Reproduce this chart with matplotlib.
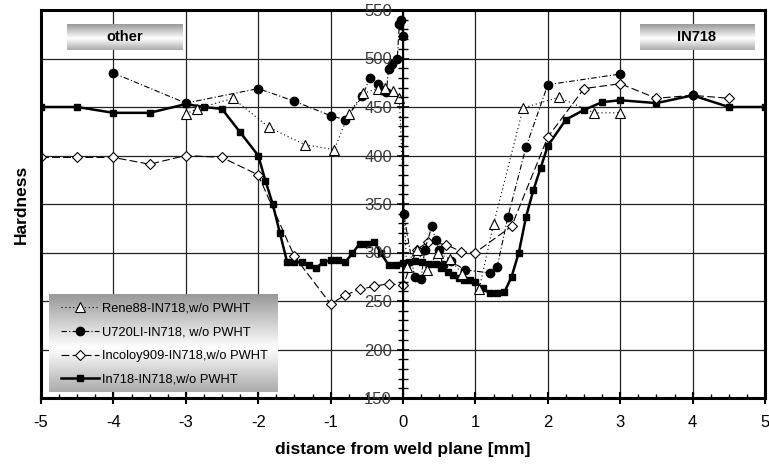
"""Hardness traverse across the weld plane for four alloy pairings vs IN718."""
import numpy as np
import matplotlib

matplotlib.use("Agg")
import matplotlib.pyplot as plt  # noqa: E402
from matplotlib.ticker import MultipleLocator  # noqa: E402

plt.rcParams["font.family"] = ["Liberation Sans", "DejaVu Sans"]
plt.rcParams["axes.unicode_minus"] = False

# --- measured traverses (distance in mm, hardness) ---
x_rene = [-3.0, -2.85, -2.35, -1.85, -1.35, -0.95, -0.75, -0.55, -0.35, -0.25,
          -0.14, -0.05, 0.05, 0.19, 0.33, 0.48, 0.65, 0.82, 1.05, 1.25,
          1.66, 2.15, 2.64, 3.0]
h_rene = [443, 448, 459, 429, 411, 406, 443, 464, 469, 470,
          466, 459, 285, 303, 282, 300, 293, 278, 262, 329,
          449, 460, 444, 444]

x_u720 = [-4.0, -3.0, -2.0, -1.5, -1.0, -0.8, -0.56, -0.46, -0.35, -0.29,
          -0.23, -0.2, -0.15, -0.08, -0.05, -0.03, 0.0, 0.01, 0.16, 0.25,
          0.3, 0.4, 0.45, 0.5, 0.55, 0.66, 0.86, 1.2, 1.3, 1.45,
          1.7, 2.0, 3.0, 3.5, 4.0]
h_u720 = [485, 454, 469, 456, 441, 437, 461, 480, 474, 468,
          465, 489, 494, 499, 536, 540, 523, 340, 275, 273,
          303, 327, 313, 303, 287, 291, 282, 279, 285, 337,
          409, 473, 484, np.nan, 462]

x_incoloy = [-5.0, -4.5, -4.0, -3.5, -3.0, -2.5, -2.0, -1.5, -1.0, -0.8,
             -0.6, -0.4, -0.2, 0.0, 0.19, 0.35, 0.6, 0.8, 1.0, 1.5,
             2.0, 2.5, 3.0, 3.5, 4.0, 4.5]
h_incoloy = [398, 398, 398, 391, 400, 398, 380, 296, 247, 256,
             262, 265, 268, 266, 303, 311, 308, 301, 300, 327,
             419, 469, 474, 459, 462, 459]

x_in718 = [-5.0, -4.5, -4.0, -3.5, -3.0, -2.75, -2.5, -2.25, -2.0, -1.9,
           -1.8, -1.7, -1.6, -1.5, -1.4, -1.3, -1.2, -1.1, -1.0, -0.9,
           -0.8, -0.7, -0.6, -0.5, -0.4, -0.3, -0.2, -0.1, 0.0, 0.08,
           0.17, 0.26, 0.36, 0.46, 0.53, 0.62, 0.69, 0.77, 0.84, 0.92,
           1.0, 1.1, 1.2, 1.3, 1.4, 1.5, 1.6, 1.7, 1.8, 1.9,
           2.0, 2.25, 2.5, 2.75, 3.0, 3.5, 4.0, 4.5, 5.0]
h_in718 = [450, 450, 444, 444, 453, 450, 448, 424, 400, 374,
           350, 320, 290, 290, 290, 287, 284, 290, 292, 292,
           290, 299, 309, 309, 311, 299, 287, 287, 289, 290,
           291, 290, 288, 288, 284, 280, 277, 274, 272, 272,
           270, 263, 258, 258, 259, 275, 300, 337, 364, 387,
           410, 437, 447, 455, 457, 454, 462, 450, 450]

labels = ["Rene88-IN718,w/o PWHT", "U720LI-IN718, w/o PWHT",
          "Incoloy909-IN718,w/o PWHT", "In718-IN718,w/o PWHT"]


def gradient_panel(ax, bounds, zorder, text=None):
    """Grey-white-grey shaded box in axes coordinates."""
    panel = ax.inset_axes(bounds, zorder=zorder)
    t = np.linspace(0.0, 1.0, 64)
    shade = 1.0 - 0.40 * np.abs(t - 0.55) / 0.55
    panel.imshow(np.repeat(shade[:, None], 2, axis=1), cmap="gray", vmin=0, vmax=1,
                 aspect="auto", extent=(0, 1, 0, 1), interpolation="bicubic")
    panel.set_axis_off()
    if text:
        panel.text(0.5, 0.5, text, ha="center", va="center",
                   fontsize=10.5, fontweight="bold")
    return panel


fig = plt.figure(figsize=(7.69, 4.66), dpi=100)
ax = fig.add_axes([41 / 769, 68 / 466, 724 / 769, 388 / 466])

ln_in718, = ax.plot(x_in718, h_in718, color="black", lw=1.8, marker="s", ms=4.5,
                    zorder=2.2)
ln_incoloy, = ax.plot(x_incoloy, h_incoloy, color="black", lw=0.8,
                      linestyle=(0, (7, 3)), marker="D", ms=5, mfc="white",
                      mec="black", mew=0.8, zorder=2.4)
ln_u720, = ax.plot(x_u720, h_u720, color="black", lw=0.8,
                   linestyle=(0, (5, 2, 1, 2)), marker="o", ms=6, zorder=2.6)
ln_rene, = ax.plot(x_rene, h_rene, color="black", lw=0.8, linestyle=(0, (1, 2.5)),
                   marker="^", ms=7, mfc="white", mec="black", mew=0.8, zorder=2.8)

ax.set_xlim(-5, 5)
ax.set_ylim(150, 550)
ax.xaxis.set_major_locator(MultipleLocator(1))
ax.xaxis.set_minor_locator(MultipleLocator(0.25))
ax.yaxis.set_major_locator(MultipleLocator(50))
ax.grid(True, which="major", color="#222222", lw=0.9)
ax.tick_params(axis="y", which="both", left=False, labelleft=False)
ax.tick_params(axis="x", which="major", direction="inout", length=8, width=1.5,
               labelsize=12, pad=8)
ax.tick_params(axis="x", which="minor", direction="in", length=3, width=1)
for spine in ax.spines.values():
    spine.set_linewidth(2.2)

# hardness scale sits on the weld plane, labels to its left
sec = ax.secondary_yaxis(0.5)
sec.set_zorder(4)
sec.yaxis.set_ticks_position("left")
sec.spines["left"].set_visible(True)
sec.spines["right"].set_visible(False)
sec.set_yticks(np.arange(150, 551, 50))
sec.yaxis.set_minor_locator(MultipleLocator(10))
sec.tick_params(which="major", direction="inout", length=8, width=1.2,
                labelsize=12, labelcolor="#3a3a3a", pad=4)
sec.tick_params(which="minor", direction="inout", length=7, width=1)
sec.spines["left"].set_linewidth(1.5)

ax.set_xlabel("distance from weld plane [mm]", fontsize=12.5, fontweight="bold",
              labelpad=9)
ax.set_ylabel("Hardness", fontsize=12.5, fontweight="bold", labelpad=9)

gradient_panel(ax, [0.036, 0.897, 0.160, 0.067], 4.5, "other")
gradient_panel(ax, [0.827, 0.897, 0.158, 0.067], 4.5, "IN718")
gradient_panel(ax, [0.011, 0.0155, 0.315, 0.2525], 4.5)

leg = ax.legend([ln_rene, ln_u720, ln_incoloy, ln_in718], labels,
                loc="upper left", bbox_to_anchor=(0.0193, 0.262), borderaxespad=0,
                frameon=False, fontsize=9.3, handlelength=2.9, handletextpad=0.25,
                labelspacing=0.9, borderpad=0.5)
leg.set_zorder(6)

fig.savefig("out.png", dpi=100)
